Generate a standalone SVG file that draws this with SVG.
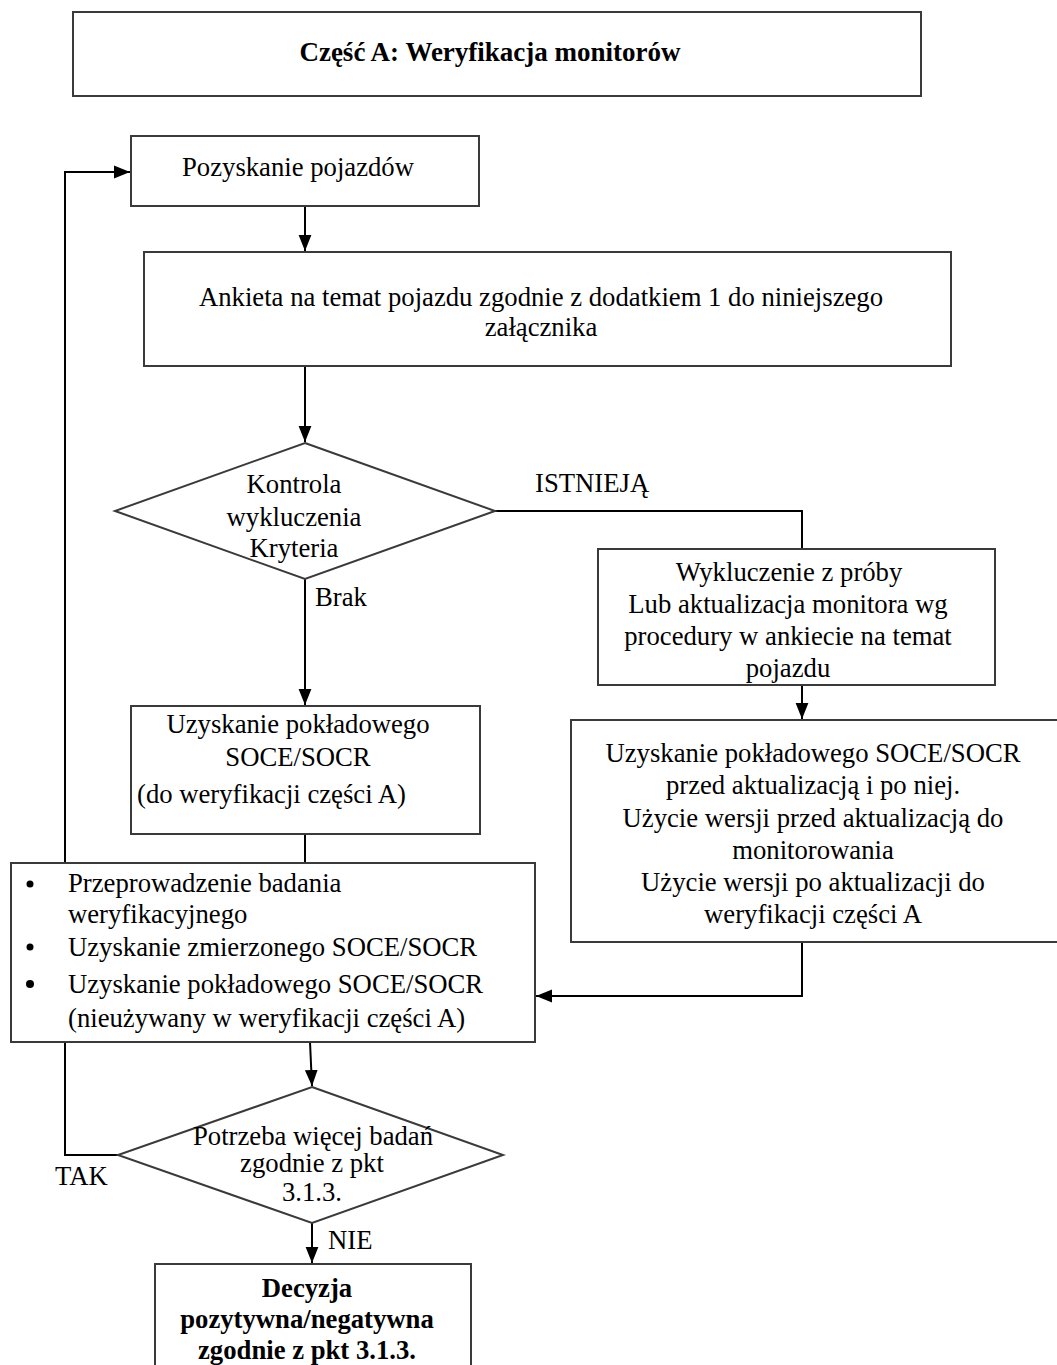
<svg xmlns="http://www.w3.org/2000/svg" width="1057" height="1365" viewBox="0 0 1057 1365">
  <style>
    .box { fill: #fff; stroke: #3a3a3a; stroke-width: 2; }
    .link { fill: none; stroke: #000; stroke-width: 2; }
    text { font-family: "Liberation Serif", Tinos, "Times New Roman", Times, "DejaVu Serif", serif; font-size: 26.7px; fill: #000; }
    .c { text-anchor: middle; }
    .b { font-weight: bold; }
    .t { font-size: 27px; }
  </style>
  <defs>
    <marker id="arrow" viewBox="0 0 10 10" refX="10" refY="5" markerWidth="16" markerHeight="16" markerUnits="userSpaceOnUse" orient="auto">
      <path d="M0,1 L10,5 L0,9 z" fill="#000"/>
    </marker>
  </defs>
  <rect width="1057" height="1365" fill="#fff"/>

  <!-- connectors -->
  <g id="connectors">
    <polyline class="link" points="118,1155 65,1155 65,172 130,172" marker-end="url(#arrow)"/>
    <line class="link" x1="305" y1="206" x2="305" y2="251" marker-end="url(#arrow)"/>
    <line class="link" x1="305" y1="366" x2="305" y2="442" marker-end="url(#arrow)"/>
    <polyline class="link" points="495,511 802,511 802,548"/>
    <line class="link" x1="305" y1="579" x2="305" y2="705" marker-end="url(#arrow)"/>
    <line class="link" x1="305" y1="834" x2="305" y2="863"/>
    <line class="link" x1="802" y1="685" x2="802" y2="719" marker-end="url(#arrow)"/>
    <polyline class="link" points="802,942 802,996 536,996" marker-end="url(#arrow)"/>
    <line class="link" x1="310" y1="1042" x2="312" y2="1086" marker-end="url(#arrow)"/>
    <line class="link" x1="312" y1="1223" x2="312" y2="1263" marker-end="url(#arrow)"/>
  </g>

  <g id="title">
    <rect class="box" x="73" y="12" width="848" height="84"/>
    <text class="c b t" x="490" y="61">Część A: Weryfikacja monitorów</text>
  </g>

  <g id="pozyskanie">
    <rect class="box" x="131" y="136" width="348" height="70"/>
    <text class="c" x="298" y="176">Pozyskanie pojazdów</text>
  </g>

  <g id="ankieta">
    <rect class="box" x="144" y="252" width="807" height="114"/>
    <text class="c" x="541" y="306">Ankieta na temat pojazdu zgodnie z dodatkiem 1 do niniejszego</text>
    <text class="c" x="541" y="336">załącznika</text>
  </g>

  <g id="kontrola">
    <polygon class="box" points="305,443 495,511 305,579 115,511"/>
    <text class="c" x="294" y="493">Kontrola</text>
    <text class="c" x="294" y="526">wykluczenia</text>
    <text class="c" x="294" y="557">Kryteria</text>
  </g>

  <g id="labels">
    <text x="535" y="492">ISTNIEJĄ</text>
    <text x="315" y="606">Brak</text>
    <text x="55" y="1185">TAK</text>
    <text x="328" y="1249">NIE</text>
  </g>

  <g id="wykluczenie">
    <rect class="box" x="598" y="549" width="397" height="136"/>
    <text class="c" x="789" y="581">Wykluczenie z próby</text>
    <text class="c" x="788" y="613">Lub aktualizacja monitora wg</text>
    <text class="c" x="788" y="645">procedury w ankiecie na temat</text>
    <text class="c" x="788" y="677">pojazdu</text>
  </g>

  <g id="uzyskanie-pokladowego">
    <rect class="box" x="131" y="706" width="349" height="128"/>
    <text class="c" x="298" y="733">Uzyskanie pokładowego</text>
    <text class="c" x="298" y="766">SOCE/SOCR</text>
    <text x="137" y="803">(do weryfikacji części A)</text>
  </g>

  <g id="aktualizacja">
    <rect class="box" x="571" y="720" width="490" height="222"/>
    <text class="c" x="813" y="762">Uzyskanie pokładowego SOCE/SOCR</text>
    <text class="c" x="813" y="794">przed aktualizacją i po niej.</text>
    <text class="c" x="813" y="827">Użycie wersji przed aktualizacją do</text>
    <text class="c" x="813" y="859">monitorowania</text>
    <text class="c" x="813" y="891">Użycie wersji po aktualizacji do</text>
    <text class="c" x="813" y="923">weryfikacji części A</text>
  </g>

  <g id="badanie">
    <rect class="box" x="11" y="863" width="524" height="179"/>
    <circle cx="30" cy="884" r="3.5" fill="#000"/>
    <circle cx="30" cy="947" r="3.5" fill="#000"/>
    <circle cx="30" cy="984" r="4" fill="#000"/>
    <text x="68" y="892">Przeprowadzenie badania</text>
    <text x="68" y="923">weryfikacyjnego</text>
    <text x="68" y="956">Uzyskanie zmierzonego SOCE/SOCR</text>
    <text x="68" y="993">Uzyskanie pokładowego SOCE/SOCR</text>
    <text x="68" y="1027">(nieużywany w weryfikacji części A)</text>
  </g>

  <g id="potrzeba">
    <polygon class="box" points="312,1087 503,1155 312,1223 118,1155"/>
    <text class="c" x="313" y="1145">Potrzeba więcej badań</text>
    <text class="c" x="312" y="1172">zgodnie z pkt</text>
    <text class="c" x="312" y="1201">3.1.3.</text>
  </g>

  <g id="decyzja">
    <rect class="box" x="155" y="1264" width="316" height="110"/>
    <text class="c b" x="307" y="1297">Decyzja</text>
    <text class="c b" x="307" y="1328">pozytywna/negatywna</text>
    <text class="c b" x="307" y="1359">zgodnie z pkt 3.1.3.</text>
  </g>
</svg>
